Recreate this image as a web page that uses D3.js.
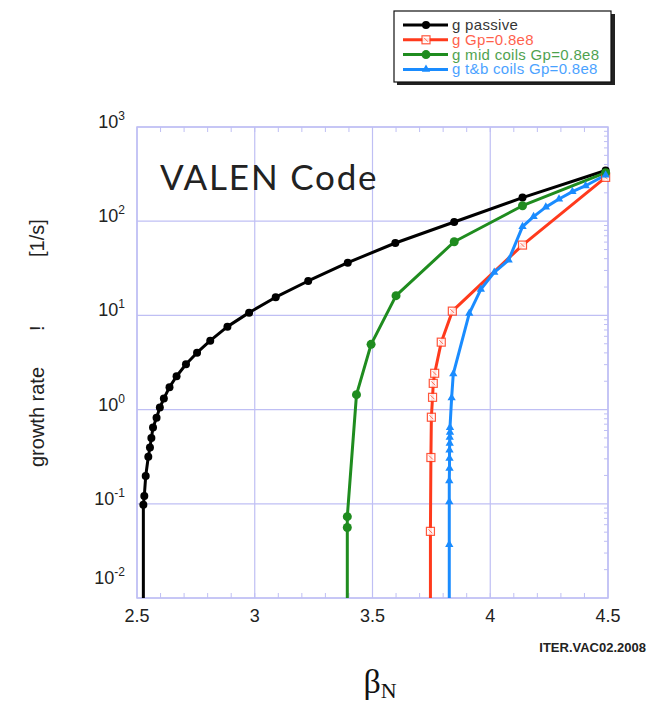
<!DOCTYPE html>
<meta charset="utf-8">
<style>
body { margin: 0; background: #fff; }
text { font-family: "Liberation Sans", Arial, sans-serif; }
</style>
<svg width="660" height="708"></svg>
<script src="https://d3js.org/d3.v7.min.js"></script>
<script>

// beta_N where each curve leaves the bottom of the plot (growth -> 0)
var onset = { passive: 2.527, mid: 3.393, red: 3.746, tb: 3.826 };

var passiveBeta = [2.527, 2.531, 2.537, 2.548, 2.555, 2.561, 2.568, 2.583, 2.597, 2.614, 2.638, 2.668, 2.708, 2.755, 2.811, 2.884, 2.976, 3.089, 3.227, 3.395, 3.597, 3.847, 4.137, 4.49];
var passiveRate = [0.098, 0.121, 0.197, 0.316, 0.395, 0.50, 0.645, 0.82, 1.05, 1.31, 1.73, 2.26, 3.03, 4.02, 5.39, 7.6, 10.7, 15.6, 23.2, 36.3, 58.7, 98, 178, 345];

var gpBeta = [3.746, 3.748, 3.75, 3.755, 3.758, 3.764, 3.792, 3.839, 4.137, 4.49];
var gpRate = [0.051, 0.31, 0.83, 1.35, 1.9, 2.43, 5.2, 11.1, 55.8, 292];

var midBeta = [3.393, 3.393, 3.432, 3.494, 3.600, 3.847, 4.137, 4.49];
var midRate = [0.056, 0.073, 1.44, 4.93, 16.2, 60.5, 146, 327];

var tbBeta = [3.826, 3.826, 3.826, 3.827, 3.827, 3.827, 3.828, 3.828, 3.829, 3.829, 3.836, 3.843, 3.911, 3.96, 4.017, 4.078, 4.137, 4.184, 4.236, 4.292, 4.349, 4.405, 4.49];
var tbRate = [0.037, 0.105, 0.175, 0.238, 0.304, 0.372, 0.438, 0.508, 0.574, 0.643, 1.33, 2.39, 10.5, 18.9, 28.7, 38.7, 87.5, 112, 141, 172, 206, 238, 309];

var xTicks = [2.5, 3, 3.5, 4, 4.5];
var yExps = [-2, -1, 0, 1, 2, 3];
var legendLabels = ["g passive", "g Gp=0.8e8", "g mid coils Gp=0.8e8", "g t&b coils Gp=0.8e8"];

var svg = d3.select("svg"),
    pLeft = 137, pRight = 608, pTop = 127, pBottom = 598,
    gridColor = "#bfbff4";

var x = d3.scaleLinear().domain([2.5, 4.5]).range([pLeft, pRight]);
var y = d3.scaleLog().domain([0.01, 1000]).range([pBottom, pTop]);

var series = [
  { key: "passive", color: "#000000", marker: "circle", beta: passiveBeta, rate: passiveRate, label: legendLabels[0] },
  { key: "red", color: "#ff3a1c", marker: "square", beta: gpBeta, rate: gpRate, label: legendLabels[1] },
  { key: "mid", color: "#1f8c1f", marker: "circle", beta: midBeta, rate: midRate, label: legendLabels[2] },
  { key: "tb", color: "#1a8cff", marker: "triangle", beta: tbBeta, rate: tbRate, label: legendLabels[3] }
];

// grid
var grid = svg.append("g");
grid.selectAll(".vx").data(xTicks).enter().append("line")
    .attr("x1", d => x(d)).attr("x2", d => x(d))
    .attr("y1", pTop).attr("y2", pBottom)
    .attr("stroke", gridColor).attr("stroke-width", 1.2);
grid.selectAll(".hy").data(yExps).enter().append("line")
    .attr("x1", pLeft).attr("x2", pRight)
    .attr("y1", d => y(Math.pow(10, d))).attr("y2", d => y(Math.pow(10, d)))
    .attr("stroke", gridColor).attr("stroke-width", 1.2);

// minor ticks
var xMinor = d3.range(2.6, 4.5, 0.1);
grid.selectAll(".mx").data(xMinor).enter().append("line")
    .attr("x1", d => x(d)).attr("x2", d => x(d))
    .attr("y1", pBottom).attr("y2", pBottom - 5)
    .attr("stroke", gridColor);
grid.selectAll(".mxt").data(xMinor).enter().append("line")
    .attr("x1", d => x(d)).attr("x2", d => x(d))
    .attr("y1", pTop).attr("y2", pTop + 5)
    .attr("stroke", gridColor);
var yMinor = [];
yExps.slice(0, -1).forEach(function(e) {
  for (var k = 2; k < 10; k++) yMinor.push(k * Math.pow(10, e));
});
grid.selectAll(".my").data(yMinor).enter().append("line")
    .attr("x1", pRight).attr("x2", pRight - 4)
    .attr("y1", d => y(d)).attr("y2", d => y(d))
    .attr("stroke", gridColor);

svg.append("rect")
    .attr("x", pLeft).attr("y", pTop)
    .attr("width", pRight - pLeft).attr("height", pBottom - pTop)
    .attr("fill", "none").attr("stroke", gridColor).attr("stroke-width", 1.5);

// tick labels
svg.selectAll(".xl").data(xTicks).enter().append("text")
    .attr("x", d => x(d)).attr("y", pBottom + 24)
    .attr("text-anchor", "middle")
    .style("font-size", "18px").style("fill", "#222")
    .text(d => d);

var yl = svg.selectAll(".yl").data(yExps).enter().append("text")
    .attr("x", 125)
    .attr("y", d => y(Math.pow(10, d)) + (d === -2 ? -14 : 1))
    .attr("text-anchor", "end")
    .style("font-size", "18px").style("fill", "#222");
yl.append("tspan").text("10");
yl.append("tspan").attr("dy", -8).style("font-size", "12px").text(d => d);

// curves
svg.append("clipPath").attr("id", "plot")
  .append("rect").attr("x", pLeft).attr("y", pTop - 3).attr("width", pRight - pLeft + 3).attr("height", pBottom - pTop + 6);

var line = d3.line().x(d => x(d[0])).y(d => y(d[1]));
var curves = svg.append("g").attr("clip-path", "url(#plot)");

series.forEach(function(s) {
  var pts = s.beta.map((b, i) => [b, s.rate[i]]);
  var full = [[onset[s.key], 0.01]].concat(pts);
  curves.append("path")
      .attr("d", line(full))
      .attr("fill", "none").attr("stroke", s.color)
      .attr("stroke-width", 3).attr("stroke-linejoin", "round");
  s.pts = pts;
});

function drawMarker(g, s, cx, cy) {
  if (s.marker === "circle") {
    g.append("circle").attr("cx", cx).attr("cy", cy).attr("r", s.key === "mid" ? 4.5 : 4).attr("fill", s.color);
  } else if (s.marker === "square") {
    g.append("rect").attr("x", cx - 4).attr("y", cy - 4).attr("width", 8).attr("height", 8)
        .attr("fill", "#fff").attr("stroke", s.color).attr("stroke-width", 1.2).attr("opacity", 0.85);
    g.append("path").attr("d", "M" + (cx - 2) + "," + (cy - 2) + "L" + (cx + 2) + "," + (cy + 2))
        .attr("stroke", s.color).attr("stroke-width", 1).attr("opacity", 0.7);
  } else {
    g.append("path").attr("transform", "translate(" + cx + "," + cy + ")")
        .attr("d", d3.symbol(d3.symbolTriangle, 30)()).attr("fill", s.color);
  }
}

series.forEach(function(s) {
  s.pts.forEach(function(p) { drawMarker(curves, s, x(p[0]), y(p[1])); });
});

// annotation
svg.append("text").attr("x", 160).attr("y", 190)
    .style("font-family", "Lato, 'Open Sans', sans-serif")
    .style("font-size", "35px").style("letter-spacing", "1.8px").style("fill", "#222")
    .text("VALEN Code");

// axis titles
var yt = svg.append("text")
    .attr("transform", "translate(44,467) rotate(-90)")
    .style("font-size", "20px").style("fill", "#222");
yt.append("tspan").attr("x", 0).text("growth rate");
yt.append("tspan").attr("x", 136).text("!");
yt.append("tspan").attr("x", 210).text("[1/s]");

var bt = svg.append("text").attr("x", 380).attr("y", 693)
    .attr("text-anchor", "middle")
    .style("font-family", "'Liberation Serif', 'DejaVu Serif', serif")
    .style("fill", "#111");
bt.append("tspan").style("font-size", "34px").text("β");
bt.append("tspan").attr("dy", 5).style("font-size", "22px").text("N");

svg.append("text").attr("x", 646).attr("y", 652)
    .attr("text-anchor", "end")
    .style("font-size", "13px").style("font-weight", "bold").style("fill", "#222")
    .text("ITER.VAC02.2008");

// legend
var lg = svg.append("g");
lg.append("rect").attr("x", 397).attr("y", 14).attr("width", 218).attr("height", 71).attr("fill", "#222");
lg.append("rect").attr("x", 394).attr("y", 11).attr("width", 217).attr("height", 71)
    .attr("fill", "#fff").attr("stroke", "#111").attr("stroke-width", 1.2);

series.forEach(function(s, i) {
  var ly = 25 + i * 14.8;
  lg.append("line").attr("x1", 403).attr("x2", 448).attr("y1", ly).attr("y2", ly)
      .attr("stroke", s.color).attr("stroke-width", 3);
  drawMarker(lg, s, 426, ly);
  lg.append("text").attr("x", 452).attr("y", ly + 5)
      .style("font-size", "15px").style("letter-spacing", "0.3px")
      .style("fill", s.color).style("opacity", 0.8)
      .text(s.label);
});

</script>
